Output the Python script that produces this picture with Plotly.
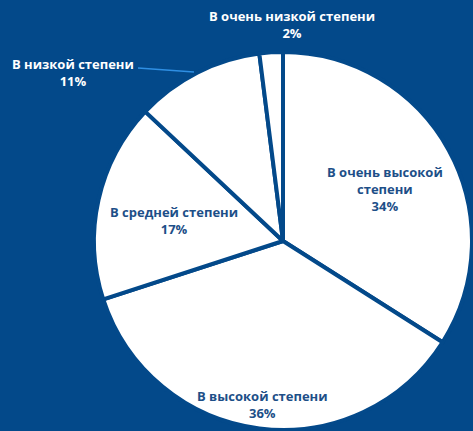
import plotly.graph_objects as go

# данные
labels = ['В очень высокой степени', 'В высокой степени', 'В средней степени',
          'В низкой степени', 'В очень низкой степени']
values = [34, 36, 17, 11, 2]
label_text = ['В очень высокой<br>степени<br>34%', 'В высокой степени<br>36%',
              'В средней степени<br>17%', 'В низкой степени<br>11%',
              'В очень низкой степени<br>2%']

W, H = 473, 431
bg = '#03498a'
dark = '#1d4f88'

fig = go.Figure(go.Pie(
    labels=labels,
    values=values,
    sort=False,
    direction='clockwise',
    rotation=0,
    textinfo='none',
    hoverinfo='label+percent',
    marker=dict(colors=['white'] * len(values), line=dict(color=bg, width=4)),
    domain=dict(x=[94 / W, 472 / W], y=[1 / H, 379 / H]),
    showlegend=False,
))

# подписи (позиции в пикселях -> доли)
label_pos = [(385, 189), (262, 404), (174, 220), (73, 72), (292, 25)]
label_color = [dark, dark, dark, 'white', 'white']
for txt, (px, py), col in zip(label_text, label_pos, label_color):
    fig.add_annotation(
        x=px / W, y=1 - py / H, xref='paper', yref='paper',
        text=f'<b>{txt}</b>', showarrow=False,
        font=dict(family='Open Sans', size=13, color=col),
        xanchor='center', yanchor='middle', align='center',
    )

# выноска для 11%
fig.add_shape(type='line', xref='paper', yref='paper',
              x0=138 / W, y0=1 - 68 / H, x1=194 / W, y1=1 - 72 / H,
              line=dict(color='#2f8fe3', width=1.5))

fig.update_layout(
    width=W, height=H,
    margin=dict(l=0, r=0, t=0, b=0),
    paper_bgcolor=bg,
    plot_bgcolor=bg,
)

fig.write_html('out.html', config={'displayModeBar': False},
               post_script="document.body.style.margin='0';")
